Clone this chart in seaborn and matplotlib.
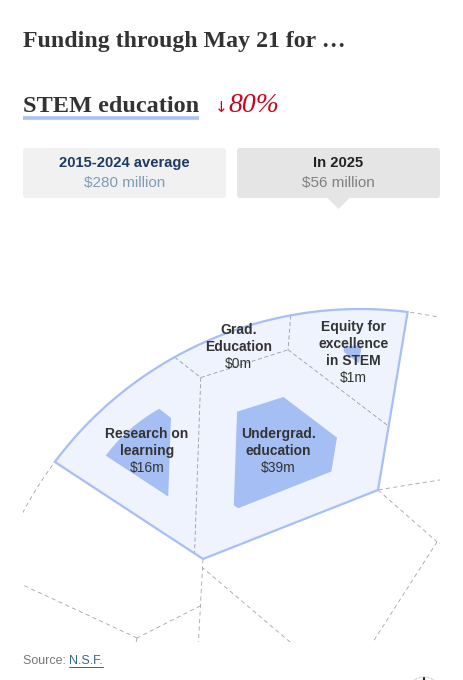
import numpy as np
import pandas as pd
import seaborn as sns
from matplotlib import pyplot as plt
from matplotlib.patches import FancyBboxPatch, Polygon, Circle

# funding in $ millions
programs = ["Research on\nlearning", "Undergrad.\neducation", "Grad.\nEducation",
            "Equity for\nexcellence\nin STEM"]
avg_2015_2024 = [80, 138, 18, 44]
funding_2025 = [16, 39, 0, 1]
total_avg = 280
total_2025 = 56
change_pct = 80

# layout seeds of the voronoi treemap (pixel space, y pointing down)
CENTER = np.array([360.0, 690.0])
RADIUS = 381.0
top_seeds = np.array([[230, 380], [49.7, 655.2], [344.9, 671.4],
                      [553.7, 433.9], [429.1, 725.3]])
top_weights = np.array([0, 0, 0, 0, 8445.0])
child_seeds = {1: [[110, 540], [44.8, 680.6], [200.2, 717.6]],
               2: [[320, 590], [243.6, 680]],
               3: [[450, 420], [468.2, 533.8]]}
program_seeds = np.array([[167.9, 455.7], [290, 460], [253.6, 345.6], [370.1, 354.6]])

SERIF = ['Liberation Serif', 'DejaVu Serif']
SANS = ['Liberation Sans', 'DejaVu Sans']


def clip_half(poly, a, b):
    # keep the part of poly where a.x <= b
    if len(poly) == 0:
        return poly
    d = poly @ a - b
    inside = d <= 0
    if inside.all():
        return poly
    if not inside.any():
        return poly[:0]
    nxt = np.roll(np.arange(len(poly)), -1)
    q, dq = poly[nxt], d[nxt]
    cross = inside != inside[nxt]
    den = d - dq
    t = np.divide(d, den, out=np.zeros_like(d), where=cross)
    inter = poly + t[:, None] * (q - poly)
    pts = np.stack([poly, inter], axis=1).reshape(-1, 2)
    mask = np.stack([inside, cross], axis=1).reshape(-1)
    return pts[mask]


def power_cells(boundary, seeds, weights):
    seeds = np.asarray(seeds, float)
    cells = []
    for i, si in enumerate(seeds):
        poly = boundary
        for j, sj in enumerate(seeds):
            if i == j:
                continue
            a = 2 * (sj - si)
            b = sj @ sj - si @ si - weights[j] + weights[i]
            poly = clip_half(poly, a, b)
        cells.append(poly)
    return cells


def area(poly):
    if len(poly) < 3:
        return 0.0
    x, y = poly[:, 0], poly[:, 1]
    return 0.5 * abs(np.dot(x, np.roll(y, -1)) - np.dot(y, np.roll(x, -1)))


def centroid(poly):
    x, y = poly[:, 0], poly[:, 1]
    x1, y1 = np.roll(x, -1), np.roll(y, -1)
    cr = x * y1 - x1 * y
    a = cr.sum() / 2
    return np.array([((x + x1) * cr).sum() / (6 * a), ((y + y1) * cr).sum() / (6 * a)])


def dist_to_boundary(m, poly):
    p = poly
    q = np.roll(poly, -1, axis=0)
    d = q - p
    L2 = (d ** 2).sum(1)
    t = np.clip(((m - p) * d).sum(1) / np.where(L2 == 0, 1, L2), 0, 1)
    proj = p + t[:, None] * d
    return np.sqrt(((proj - m) ** 2).sum(1)).min()


ang = np.linspace(0, 2 * np.pi, 721)[:-1]
circle = CENTER + RADIUS * np.column_stack([np.cos(ang), np.sin(ang)])

top_cells = power_cells(circle, top_seeds, top_weights)
stem_poly = top_cells[0]

# fit the weights so the program cells get areas in proportion to the averages
targets = np.array(avg_2015_2024) / sum(avg_2015_2024) * area(stem_poly)
w = np.zeros(len(programs))
for _ in range(800):
    cells = power_cells(stem_poly, program_seeds, w)
    areas = np.array([area(c) for c in cells])
    w += 0.35 * (targets - areas)
program_cells = power_cells(stem_poly, program_seeds, w)

seen = set()


def add_edge(p, q, rows, name):
    if np.hypot(*(q - p)) < 1e-6:
        return
    key = tuple(sorted([tuple(np.round(p, 1)), tuple(np.round(q, 1))]))
    if key in seen:
        return
    seen.add(key)
    rows.append((name, p[0], p[1]))
    rows.append((name, q[0], q[1]))


bg_rows = []
for k, cell in enumerate(top_cells):
    for p, q in zip(cell, np.roll(cell, -1, axis=0)):
        m = (p + q) / 2
        if abs(np.hypot(*(m - CENTER)) - RADIUS) < 0.05:
            continue
        add_edge(p, q, bg_rows, f"t{len(bg_rows)}")
for k, seeds in child_seeds.items():
    subs = power_cells(top_cells[k], seeds, np.zeros(len(seeds)))
    for cell in subs:
        for p, q in zip(cell, np.roll(cell, -1, axis=0)):
            if dist_to_boundary((p + q) / 2, top_cells[k]) < 0.2:
                continue
            add_edge(p, q, bg_rows, f"c{len(bg_rows)}")
circ_closed = np.vstack([circle, circle[:1]])
for x, y in circ_closed:
    bg_rows.append(("circle", x, y))
bg_edges = pd.DataFrame(bg_rows, columns=["seg", "x", "y"])

stem_rows = []
for cell in program_cells:
    for p, q in zip(cell, np.roll(cell, -1, axis=0)):
        if dist_to_boundary((p + q) / 2, stem_poly) < 0.2:
            continue
        add_edge(p, q, stem_rows, f"s{len(stem_rows)}")
stem_edges = pd.DataFrame(stem_rows, columns=["seg", "x", "y"])

sns.set_theme(style="white")
plt.rcParams['font.family'] = SANS

fig = plt.figure(figsize=(4.63, 6.80), dpi=100)
bg = fig.add_axes([0, 0, 1, 1])
bg.set_xlim(0, 463)
bg.set_ylim(680, 0)
bg.set_axis_off()

ax = fig.add_axes([23 / 463, (680 - 642) / 680, (440 - 23) / 463, (642 - 230) / 680])
ax.set_facecolor('none')

sns.lineplot(data=bg_edges, x="x", y="y", units="seg", estimator=None, sort=False,
             color="#a3a3a3", linewidth=0.6, zorder=1, ax=ax)
for ln in ax.lines:
    ln.set_dashes([5, 4])
n_bg = len(ax.lines)

ax.fill(stem_poly[:, 0], stem_poly[:, 1], color="#eef3fd", zorder=2, lw=0)
if len(stem_edges):
    sns.lineplot(data=stem_edges, x="x", y="y", units="seg", estimator=None, sort=False,
                 color="#9c9c9c", linewidth=0.6, zorder=3, ax=ax)
    for ln in ax.lines[n_bg:]:
        ln.set_dashes([5, 3])

for name, avg, now, cell in zip(programs, avg_2015_2024, funding_2025, program_cells):
    c = centroid(cell)
    if now > 0:
        inner = c + (cell - c) * np.sqrt(now / avg)
        ax.add_patch(Polygon(inner, closed=True, fc="#a5bef3", ec="none", zorder=4))
    lines = name.split("\n")
    n = len(lines) + 1
    for i, txt in enumerate(lines):
        ax.text(c[0], c[1] + (i - (n - 1) / 2) * 17, txt, ha="center", va="center",
                fontsize=10, fontweight="bold", color="#333333", zorder=6)
    ax.text(c[0], c[1] + (n - 1 - (n - 1) / 2) * 17, f"\\${now}m", ha="center",
            va="center", fontsize=10, color="#333333", zorder=6)

ax.add_patch(Polygon(stem_poly, closed=True, fc="none", ec="#a7bff4", lw=1.6,
                     zorder=5, joinstyle="miter"))
ax.set_xlim(23, 440)
ax.set_ylim(642, 230)
ax.set_axis_off()

# header
renderer = fig.canvas.get_renderer()
inv = bg.transData.inverted()


def right_edge(t):
    bb = t.get_window_extent(renderer=renderer)
    return inv.transform((bb.x1, bb.y0))[0]


bg.text(23, 47, "Funding through May 21 for \u2026", fontsize=17.2, fontweight="bold",
        family=SERIF, color="#333333", va="baseline")
t = bg.text(23, 112.5, "STEM education", fontsize=17.5, fontweight="bold",
            family=SERIF, color="#333333", va="baseline")
x1 = right_edge(t)
bg.plot([23, x1], [117.5, 117.5], color="#a9c1f7", lw=2.6, solid_capstyle="butt")
bg.text(x1 + 16, 112.5, "\u2193", fontsize=11, family=['DejaVu Sans'], color="#d0021b",
        va="baseline")
bg.text(x1 + 29, 112.5, f"{change_pct}%", fontsize=20, style="italic", family=SERIF,
        color="#d0021b", va="baseline")

bg.add_patch(FancyBboxPatch((23, 148), 203, 50, boxstyle="round,pad=0,rounding_size=3",
                            fc="#f1f1f1", ec="none"))
bg.add_patch(FancyBboxPatch((237, 148), 203, 50, boxstyle="round,pad=0,rounding_size=3",
                            fc="#e5e5e5", ec="none"))
bg.add_patch(Polygon([(327, 197.5), (338.5, 209), (350, 197.5)], closed=True,
                     fc="#e5e5e5", ec="none"))
bg.text(124.5, 163, "2015-2024 average", ha="center", va="center", fontsize=10.6,
        fontweight="bold", color="#1d3b62")
bg.text(124.5, 183.5, f"\\${total_avg} million", ha="center", va="center", fontsize=11,
        color="#7f9bb5")
bg.text(338.5, 163, "In 2025", ha="center", va="center", fontsize=10.6,
        fontweight="bold", color="#222222")
bg.text(338.5, 183.5, f"\\${total_2025} million", ha="center", va="center", fontsize=11,
        color="#808080")

# source line
s = bg.text(23, 661, "Source: ", fontsize=9, color="#777777", va="center")
sx = right_edge(s)
n = bg.text(sx, 661, "N.S.F.", fontsize=9, color="#326891", va="center")
nx = right_edge(n)
bg.plot([sx, nx], [667, 667], color="#326891", lw=0.7)

bg.add_patch(Circle((424, 694), 17, fc="white", ec="#dcdcdc", lw=0.8))
bg.plot([424, 424], [678, 681], color="#222222", lw=1.5)

fig.savefig("out.png", dpi=100)
